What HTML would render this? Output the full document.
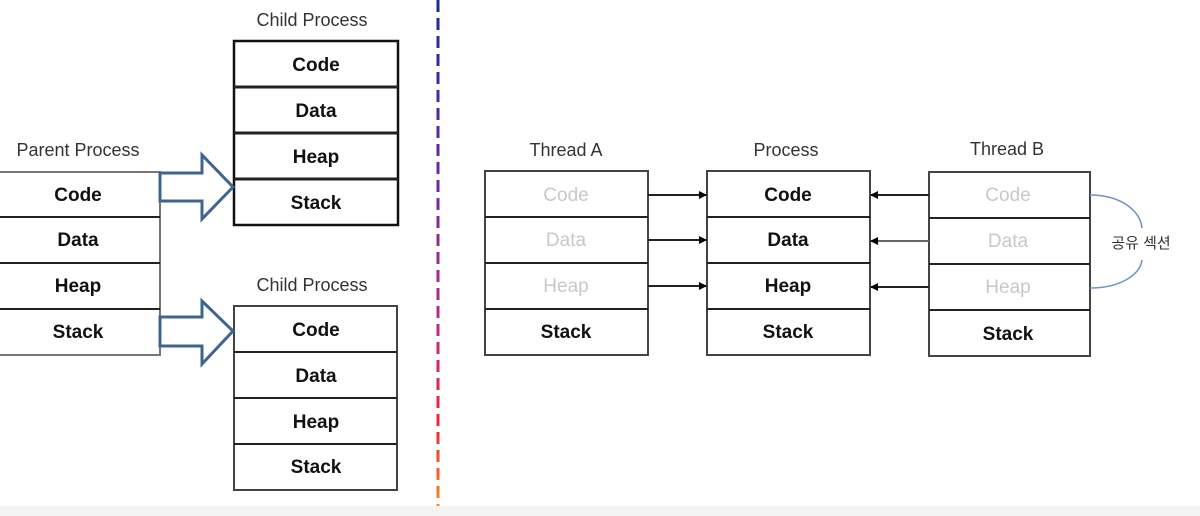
<!DOCTYPE html>
<html><head><meta charset="utf-8"><style>
html,body{margin:0;padding:0;width:1200px;height:516px;overflow:hidden;background:#fff}
text{font-family:"Liberation Sans","Noto Sans CJK KR",sans-serif}
</style></head><body>
<svg width="1200" height="516" viewBox="0 0 1200 516" xmlns="http://www.w3.org/2000/svg">
<defs>
<linearGradient id="g" x1="0" y1="0" x2="0" y2="1">
<stop offset="0" stop-color="#1a2a9a"/><stop offset="0.35" stop-color="#6a2aa0"/><stop offset="0.65" stop-color="#c02a80"/><stop offset="0.85" stop-color="#f02a30"/><stop offset="1" stop-color="#f88a20"/>
</linearGradient>
<marker id="ah" markerWidth="8" markerHeight="8" refX="7" refY="4" orient="auto" markerUnits="userSpaceOnUse"><path d="M0,0 L8,4 L0,8 Z" fill="#000"/></marker>
</defs>
<rect x="0" y="506" width="1200" height="10" fill="#f4f4f4"/>
<rect x="436.5" y="0" width="3" height="506" fill="url(#g)" mask="url(#m)"/>
<mask id="m"><line x1="438" y1="0" x2="438" y2="506" stroke="#fff" stroke-width="4" stroke-dasharray="12,6"/></mask>
<g font-size="18" text-anchor="middle" fill="#333">
<text x="78" y="156">Parent Process</text>
<text x="312" y="26">Child Process</text>
<text x="312" y="291">Child Process</text>
<text x="566" y="156">Thread A</text>
<text x="786" y="156">Process</text>
<text x="1007" y="155">Thread B</text>
</g>
<g fill="#fff" stroke="#444" stroke-width="2">
<rect x="-2" y="172" width="162" height="183" stroke="#777"/>
<rect x="234" y="41" width="164" height="184" stroke="#111" stroke-width="2.5"/>
<rect x="234" y="306" width="163" height="184"/>
<rect x="485" y="171" width="163" height="184"/>
<rect x="707" y="171" width="163" height="184"/>
<rect x="929" y="172" width="161" height="184"/>
</g>
<g stroke="#222" stroke-width="2">
<path d="M0 217H160M0 263H160M0 309H160"/>
<path d="M234 87H398M234 133H398M234 179H398" stroke-width="3"/>
<path d="M234 352H397M234 398H397M234 444H397"/>
<path d="M485 217H648M485 263H648M485 309H648"/>
<path d="M707 217H870M707 263H870M707 309H870"/>
<path d="M929 218H1090M929 264H1090M929 310H1090"/>
</g>
<g fill="#fff" stroke="#3d6590" stroke-width="3" stroke-linejoin="miter">
<path d="M160 173H202V155L233 187L202 219V201H160Z"/>
<path d="M160 317H202V301L233 331L202 364V346H160Z"/>
</g>
<g font-size="19" font-weight="bold" text-anchor="middle" fill="#111">
<text x="78" y="201">Code</text><text x="78" y="246">Data</text><text x="78" y="292">Heap</text><text x="78" y="338">Stack</text>
<text x="316" y="71">Code</text><text x="316" y="117">Data</text><text x="316" y="163">Heap</text><text x="316" y="209">Stack</text>
<text x="316" y="336">Code</text><text x="316" y="382">Data</text><text x="316" y="428">Heap</text><text x="316" y="473">Stack</text>
<text x="788" y="201">Code</text><text x="788" y="246">Data</text><text x="788" y="292">Heap</text><text x="788" y="338">Stack</text>
<text x="566" y="338">Stack</text><text x="1008" y="340">Stack</text>
</g>
<g font-size="19" text-anchor="middle" fill="#c8c8c8">
<text x="566" y="201">Code</text><text x="566" y="246">Data</text><text x="566" y="292">Heap</text>
<text x="1008" y="201">Code</text><text x="1008" y="247">Data</text><text x="1008" y="293">Heap</text>
</g>
<g stroke="#222" stroke-width="2">
<line x1="648" y1="195" x2="706" y2="195" marker-end="url(#ah)"/>
<line x1="648" y1="240" x2="706" y2="240" marker-end="url(#ah)"/>
<line x1="648" y1="286" x2="706" y2="286" marker-end="url(#ah)"/>
<line x1="929" y1="195" x2="871" y2="195" marker-end="url(#ah)"/>
<line x1="929" y1="241" x2="871" y2="241" marker-end="url(#ah)" stroke="#666"/>
<line x1="929" y1="287" x2="871" y2="287" marker-end="url(#ah)"/>
</g>
<path d="M1090 195 C1120 195 1140 210 1142 228 M1142 260 C1140 275 1120 288 1090 288" fill="none" stroke="#6a93c4" stroke-width="1.5"/>
<text x="1141" y="248" font-size="15" text-anchor="middle" fill="#333">공유 섹션</text>
</svg>
</body></html>
